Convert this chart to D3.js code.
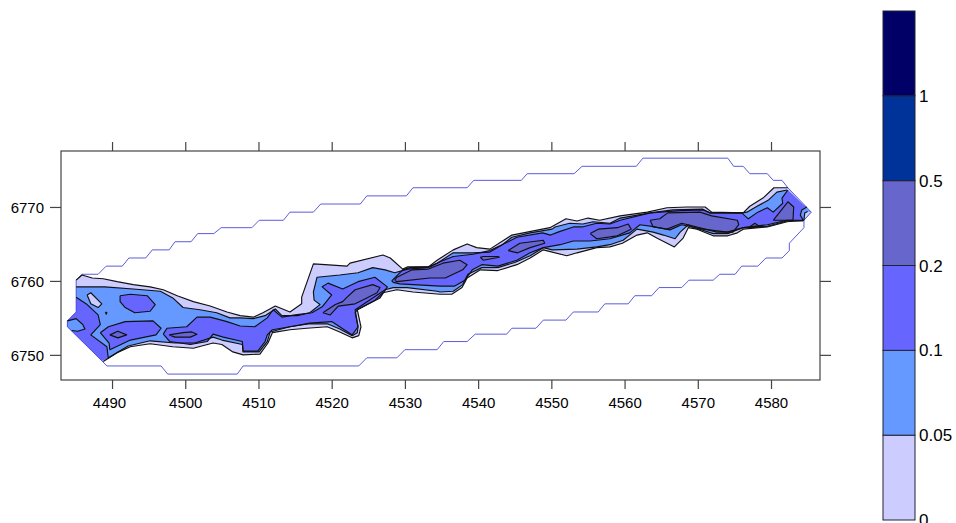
<!DOCTYPE html>
<html><head><meta charset="utf-8">
<script src="https://cdn.jsdelivr.net/npm/d3@7/dist/d3.min.js"></script>
<style>html,body{margin:0;padding:0;background:#fff;overflow:hidden}svg{display:block}text{font-family:"Liberation Sans",Arial,sans-serif;font-size:15px;fill:#000}</style>
</head><body><svg id="c" width="956" height="523"></svg>
<script>
const xTicks=[4490,4500,4510,4520,4530,4540,4550,4560,4570,4580];
const yTicks=[6750,6760,6770];
const levelLabels=["0","0.05","0.1","0.2","0.5","1",""];
const levelColors=["#CCCCFF","#6699FF","#6666FF","#6666CC","#003399","#000066"];

const gridBoundary=[[4485.9,6760.9],[4488.1,6760.9],[4489.2,6762.0],[4491.4,6762.0],[4492.3,6763.1],[4494.6,6763.1],[4495.5,6764.2],[4497.8,6764.2],[4498.6,6765.3],[4500.8,6765.3],[4501.7,6766.4],[4503.9,6766.4],[4504.9,6767.2],[4509.1,6767.2],[4510.1,6768.2],[4513.4,6768.2],[4514.3,6769.3],[4517.5,6769.3],[4518.5,6770.4],[4523.9,6770.4],[4524.8,6771.5],[4530.2,6771.5],[4531.1,6772.6],[4538.5,6772.6],[4539.4,6773.6],[4545.9,6773.6],[4546.7,6774.5],[4553.1,6774.5],[4554.2,6775.5],[4561.6,6775.5],[4562.5,6776.6],[4574.1,6776.6],[4574.9,6775.5],[4576.2,6775.5],[4577.1,6774.5],[4579.5,6774.5],[4580.3,6773.6],[4581.5,6773.6],[4582.3,6772.6],[4585.5,6769.3],[4584.5,6768.2],[4584.5,6767.2],[4582.5,6765.1],[4582.5,6764.1],[4581.5,6763.1],[4579.3,6763.1],[4578.2,6762.0],[4576.0,6762.0],[4575.1,6760.9],[4573.0,6760.9],[4572.1,6760.1],[4568.8,6760.1],[4567.8,6759.1],[4564.7,6759.1],[4563.7,6758.0],[4561.4,6758.0],[4560.5,6756.9],[4557.3,6756.9],[4556.4,6755.8],[4553.0,6755.8],[4552.0,6754.7],[4548.9,6754.7],[4547.9,6753.6],[4544.6,6753.6],[4543.9,6752.8],[4539.6,6752.8],[4538.5,6751.8],[4535.3,6751.8],[4534.4,6750.7],[4530.0,6750.7],[4528.9,6749.6],[4524.8,6749.6],[4523.7,6748.5],[4507.9,6748.5],[4507.1,6747.4],[4497.6,6747.4],[4496.7,6748.5],[4489.3,6748.5],[4488.6,6749.2],[4483.9,6753.8],[4483.9,6754.6],[4485.1,6755.8],[4485.1,6760.1]];

const level0Top=[[4485.1,6760.1],[4485.9,6760.8],[4487.3,6760.4],[4488.8,6760.3],[4490.7,6759.9],[4492.9,6759.5],[4495.2,6759.2],[4497.0,6758.8],[4498.9,6758.0],[4501.1,6757.2],[4503.4,6756.6],[4505.7,6755.8],[4507.5,6755.3],[4509.3,6755.1],[4510.6,6755.7],[4512.3,6756.6],[4514.3,6755.8],[4515.9,6756.9],[4515.9,6757.8],[4517.5,6762.3],[4519.1,6762.2],[4522.1,6762.0],[4522.5,6762.4],[4527.0,6763.5],[4528.0,6763.1],[4529.7,6761.6],[4530.4,6761.9],[4533.2,6761.9],[4534.4,6762.8],[4536.6,6764.2],[4538.5,6765.0],[4539.8,6764.5],[4541.6,6764.3],[4544.6,6766.2],[4549.8,6767.2],[4552.0,6768.4],[4553.5,6768.1],[4555.0,6768.5],[4556.6,6768.2],[4559.4,6768.8],[4563.1,6769.3],[4565.8,6769.9],[4568.5,6770.0],[4571.0,6770.0],[4571.9,6769.3],[4576.2,6769.2],[4577.1,6770.1],[4578.9,6771.2],[4580.4,6772.6],[4582.3,6772.6]];
const level0Bottom=[[4584.5,6768.2],[4582.2,6768.0],[4579.5,6767.3],[4576.2,6767.0],[4575.4,6766.5],[4574.1,6766.1],[4572.1,6766.1],[4569.9,6767.0],[4568.7,6767.2],[4568.0,6765.8],[4566.8,6764.6],[4564.4,6765.8],[4563.1,6766.5],[4561.7,6766.2],[4559.7,6765.1],[4558.0,6764.6],[4556.2,6764.5],[4553.5,6763.8],[4552.1,6763.4],[4548.9,6764.2],[4547.1,6763.1],[4545.3,6762.2],[4542.7,6761.4],[4540.3,6761.5],[4538.5,6760.4],[4537.8,6759.1],[4536.4,6758.2],[4534.8,6758.2],[4531.1,6758.5],[4528.9,6758.8],[4527.0,6758.4],[4525.9,6757.4],[4523.5,6756.1],[4524.0,6753.8],[4523.7,6752.6],[4522.8,6752.3],[4521.1,6753.1],[4519.4,6753.8],[4516.6,6753.6],[4514.3,6753.4],[4511.9,6753.0],[4511.3,6751.6],[4510.2,6750.1],[4507.9,6750.0],[4506.5,6750.4],[4505.0,6751.4],[4503.8,6751.6],[4501.1,6750.9],[4498.3,6751.1],[4495.2,6751.5],[4492.5,6751.1],[4490.7,6750.3],[4488.8,6749.1]];
const level0Tip=[[4584.5,6768.2],[4584.6,6769.2],[4585.0,6769.4]];
const level0Hole=[[4486.6,6758.1],[4487.1,6758.4],[4488.6,6756.9],[4488.1,6756.4],[4487.1,6756.9],[4486.6,6758.1]];

const level1Top=[[4485.1,6759.2],[4487.0,6759.2],[4489.0,6759.2],[4492.9,6758.9],[4496.6,6758.6],[4498.3,6757.7],[4499.7,6756.4],[4502.0,6756.1],[4504.3,6755.7],[4506.1,6755.0],[4507.5,6755.0],[4509.3,6754.9],[4510.9,6755.3],[4512.3,6756.2],[4513.2,6755.3],[4515.3,6755.3],[4517.0,6755.7],[4518.4,6756.8],[4517.6,6757.4],[4517.5,6758.5],[4518.0,6760.5],[4521.1,6760.8],[4523.6,6761.1],[4525.6,6761.8],[4527.3,6761.5],[4528.6,6761.1],[4530.4,6761.6],[4533.0,6761.8],[4534.4,6762.4],[4536.6,6763.8],[4539.3,6763.8],[4541.6,6763.9],[4543.3,6764.9],[4544.6,6765.9],[4547.1,6766.5],[4550.1,6767.0],[4550.5,6767.3],[4552.5,6767.8],[4554.3,6767.7],[4555.7,6768.0],[4558.0,6767.8],[4559.4,6768.5],[4563.5,6769.2],[4566.6,6769.6],[4570.7,6769.7],[4571.7,6769.2],[4576.0,6769.2],[4576.7,6769.3],[4578.1,6770.1],[4579.6,6770.9],[4580.8,6772.0],[4582.2,6772.3]];
const level1Bottom=[[4584.4,6768.1],[4582.2,6768.1],[4579.5,6767.4],[4576.2,6767.2],[4575.1,6766.8],[4574.1,6766.4],[4572.1,6766.4],[4569.6,6767.2],[4568.7,6767.6],[4567.6,6766.6],[4566.9,6765.7],[4565.3,6766.2],[4563.9,6766.6],[4561.7,6767.0],[4559.8,6765.5],[4558.0,6764.9],[4556.2,6764.6],[4553.5,6764.3],[4550.1,6764.2],[4548.9,6764.5],[4547.1,6763.4],[4545.0,6762.5],[4542.7,6761.8],[4540.5,6761.8],[4538.6,6760.9],[4537.9,6759.5],[4536.6,6758.6],[4534.8,6758.5],[4534.4,6758.6],[4530.3,6759.1],[4528.4,6759.1],[4527.3,6758.8],[4525.6,6757.7],[4523.2,6756.1],[4523.6,6753.8],[4523.5,6753.0],[4522.8,6752.6],[4521.1,6753.5],[4519.4,6754.2],[4517.0,6754.2],[4514.3,6753.8],[4511.6,6753.1],[4511.2,6751.8],[4510.1,6750.4],[4507.9,6750.4],[4507.8,6751.4],[4505.0,6752.0],[4503.8,6752.4],[4501.3,6751.6],[4498.6,6751.6],[4495.2,6751.9],[4492.2,6751.2],[4489.5,6749.6]];
const level1LeftTip=[[4483.9,6754.6],[4485.1,6754.9],[4486.0,6754.1],[4486.3,6753.5],[4485.3,6753.2],[4484.5,6753.3]];

const level2Left=[[4485.1,6757.8],[4486.6,6756.8],[4488.1,6755.4],[4488.4,6754.1],[4487.1,6752.7],[4489.3,6751.1],[4489.5,6749.5]];
const level2A=[[4491.1,6758.0],[4492.5,6758.2],[4494.8,6758.0],[4495.9,6756.8],[4495.2,6755.9],[4493.1,6755.7],[4491.8,6756.4],[4491.1,6757.2],[4491.1,6758.0]];
const level2B=[[4488.4,6753.0],[4489.5,6753.8],[4491.8,6754.5],[4495.6,6754.6],[4496.7,6753.6],[4496.0,6752.7],[4492.5,6752.0],[4489.7,6750.7],[4489.6,6751.6],[4488.4,6753.0]];
const level2C=[[4497.0,6752.8],[4497.5,6753.6],[4500.2,6753.8],[4501.6,6755.1],[4503.4,6755.1],[4505.7,6754.5],[4507.5,6753.9],[4509.5,6753.8],[4511.2,6755.0],[4512.0,6756.1],[4513.2,6755.1],[4515.0,6755.4],[4517.3,6755.7],[4518.7,6756.5],[4520.0,6758.1],[4518.7,6759.2],[4519.5,6759.7],[4521.5,6758.9],[4523.6,6759.9],[4525.9,6760.5],[4527.6,6759.2],[4526.6,6757.7],[4523.5,6756.1],[4523.2,6755.7],[4523.6,6753.8],[4522.8,6752.7],[4521.1,6753.8],[4520.0,6754.5],[4517.0,6754.3],[4514.3,6753.8],[4511.9,6753.4],[4511.2,6752.7],[4510.9,6751.8],[4509.9,6750.5],[4507.9,6750.5],[4507.8,6751.8],[4505.2,6752.4],[4503.8,6752.8],[4503.0,6751.8],[4500.7,6751.4],[4497.9,6751.8],[4497.0,6752.8]];
const level2DTop=[[4528.2,6760.0],[4529.7,6761.5],[4530.7,6761.8],[4533.4,6761.9],[4534.8,6762.6],[4536.6,6763.3],[4539.3,6763.6],[4541.6,6764.1],[4543.9,6765.2],[4545.3,6765.9],[4548.8,6766.5],[4549.9,6766.2],[4550.9,6766.6],[4553.0,6767.3],[4554.2,6767.3],[4556.2,6767.8],[4558.0,6767.7],[4559.4,6768.2],[4563.5,6769.2],[4567.6,6769.5],[4570.7,6769.6],[4571.7,6769.2],[4576.0,6769.2],[4576.9,6768.4],[4578.2,6769.3],[4579.5,6769.9],[4580.3,6769.3],[4581.6,6770.5],[4581.5,6771.2],[4582.3,6772.3]];
const level2DBottom=[[4584.9,6770.0],[4584.2,6769.6],[4584.0,6768.9],[4584.4,6768.2],[4582.2,6768.2],[4579.5,6767.6],[4576.2,6767.2],[4574.0,6766.6],[4570.7,6767.0],[4569.2,6767.3],[4567.8,6767.6],[4566.2,6766.9],[4564.2,6767.3],[4562.1,6767.6],[4560.7,6766.5],[4558.0,6765.7],[4555.3,6765.4],[4553.0,6765.4],[4551.2,6764.9],[4548.9,6764.5],[4547.1,6763.8],[4545.3,6762.8],[4542.7,6762.0],[4540.5,6762.2],[4539.2,6761.5],[4538.2,6760.1],[4536.8,6759.3],[4534.8,6759.3],[4529.3,6759.6],[4528.4,6759.8],[4528.2,6760.0]];

const level3Blobs=[
[[4489.7,6752.7],[4490.8,6753.2],[4492.0,6752.7],[4490.8,6752.3],[4489.7,6752.7]],
[[4497.8,6752.7],[4499.7,6753.0],[4500.9,6753.1],[4501.6,6752.8],[4500.7,6752.4],[4498.6,6752.4],[4497.8,6752.7]],
[[4518.8,6755.7],[4520.5,6756.8],[4521.5,6757.2],[4522.1,6757.8],[4523.2,6758.8],[4525.6,6759.5],[4526.6,6759.1],[4526.2,6758.4],[4524.8,6757.7],[4523.2,6756.9],[4520.9,6756.6],[4519.8,6755.4],[4518.8,6755.7]],
[[4528.6,6760.1],[4528.9,6760.5],[4531.0,6761.5],[4533.2,6761.6],[4535.2,6762.4],[4537.5,6762.8],[4538.5,6762.2],[4537.9,6761.5],[4535.5,6760.4],[4533.4,6760.4],[4528.9,6759.9],[4528.6,6760.1]],
[[4540.3,6763.2],[4540.7,6763.3],[4542.7,6763.3],[4542.9,6763.2],[4540.7,6762.8],[4540.3,6763.2]],
[[4544.1,6764.1],[4545.7,6765.1],[4548.9,6765.5],[4549.1,6765.1],[4547.1,6764.5],[4545.4,6763.8],[4544.1,6764.1]],
[[4555.3,6766.4],[4556.4,6767.0],[4559.0,6767.2],[4560.5,6767.7],[4560.9,6767.0],[4559.0,6766.1],[4556.2,6765.7],[4555.3,6766.4]],
[[4563.5,6768.2],[4564.8,6768.4],[4565.9,6769.2],[4570.3,6769.3],[4571.9,6768.8],[4575.4,6768.2],[4575.6,6767.6],[4574.8,6766.6],[4572.6,6766.6],[4569.9,6767.3],[4567.8,6767.8],[4565.8,6767.0],[4563.9,6767.3],[4563.5,6768.2]],
[[4580.3,6768.2],[4582.3,6770.7],[4583.1,6770.0],[4583.0,6768.2],[4580.3,6768.2]],
[[4576.9,6767.2],[4577.8,6767.8],[4578.5,6767.3],[4576.9,6767.2]]
];
const level2Dot=[[4489.1,6755.8],[4489.3,6755.7],[4489.2,6755.5],[4489.1,6755.8]];
const cornerNE=[[4585.5,6769.3]], cornerDiag=[[4584.4,6770.3]], cornerSW=[[4488.6,6749.2]], cornerW1=[[4483.9,6753.8]], cornerW2=[[4483.9,6754.6]], cornerNW=[[4485.1,6755.8]];

const regions=[
 {level:0,lines:[level0Top,cornerNE,level0Bottom,cornerSW,cornerW1,cornerW2,cornerNW]},
 {level:1,lines:[level1Top,cornerNE,level1Bottom,cornerSW,cornerW1,cornerW2,cornerNW]},
 {level:0,lines:[level0Hole]},
 {level:0,lines:[level0Tip,cornerNE]},
 {level:2,lines:[level2Left,cornerSW,cornerW1,cornerW2,cornerNW]},
 {level:1,lines:[level1LeftTip,cornerW1,cornerW2]},
 {level:2,lines:[level2A]},{level:2,lines:[level2B]},{level:2,lines:[level2C]},{level:2,lines:[level2Dot]},
 {level:2,lines:[level2DTop,cornerDiag,level2DBottom]},
 ...level3Blobs.map(b=>({level:3,lines:[b]}))
];

const svg=d3.select("#c");
const x=d3.scaleLinear().domain([4483.03,4586.69]).range([61,820]);
const y=d3.scaleLinear().domain([6746.6,6777.57]).range([380,151]);
const line=d3.line().x(d=>x(d[0])).y(d=>y(d[1]));
const plot=svg.append("g");

plot.selectAll("path.fill").data(regions).join("path").attr("class","fill")
 .attr("d",r=>line(r.lines.flat())+"Z").attr("fill",r=>levelColors[r.level]).attr("stroke","none");
plot.append("path").attr("d",line(gridBoundary)+"Z").attr("fill","none").attr("stroke","#4a4ad8").attr("stroke-width",0.9);
plot.selectAll("path.contour").data(regions.flatMap(r=>r.lines.filter(l=>l.length>1))).join("path").attr("class","contour")
 .attr("d",line).attr("fill","none").attr("stroke","#111").attr("stroke-width",1.15).attr("stroke-linejoin","round");

const axisColor="#444";
function styleAxis(g){g.select(".domain").remove();g.selectAll("line").attr("stroke",axisColor).attr("stroke-width",1.2);g.selectAll("text").attr("fill","#000");}
svg.append("g").attr("transform","translate(0,151)").call(d3.axisTop(x).tickValues(xTicks).tickSize(9).tickFormat("")).call(styleAxis);
const bottomAxis=svg.append("g").attr("transform","translate(0,380)").call(d3.axisBottom(x).tickValues(xTicks).tickSize(9).tickPadding(8).tickFormat(d3.format("d"))).call(styleAxis);
bottomAxis.selectAll("text").style("font-size","15px");
bottomAxis.selectAll("text").filter(d=>d===4490).attr("dx",-3);
svg.append("g").attr("transform","translate(61,0)").call(d3.axisLeft(y).tickValues(yTicks).tickSize(11).tickPadding(6).tickFormat(d3.format("d"))).call(styleAxis).selectAll("text").style("font-size","15px").attr("dy","0.4em");
svg.append("g").attr("transform","translate(820,0)").call(d3.axisRight(y).tickValues(yTicks).tickSize(11).tickFormat("")).call(styleAxis);
svg.append("rect").attr("x",61).attr("y",151).attr("width",759).attr("height",229).attr("fill","none").attr("stroke",axisColor).attr("stroke-width",1.2);

const cb=d3.scalePoint().domain(levelLabels).range([520,11]);
const cbG=svg.append("g");
levelColors.forEach((c,i)=>{
 cbG.append("rect").attr("x",883).attr("width",32).attr("y",cb(levelLabels[i+1])).attr("height",cb(levelLabels[i])-cb(levelLabels[i+1]))
  .attr("fill",c).attr("stroke","#223").attr("stroke-width",1);
});
cbG.selectAll("text").data(levelLabels.filter(d=>d!=="")).join("text").attr("x",919).attr("y",d=>cb(d)+6).style("font-size","17px").text(d=>d);
</script></body></html>
